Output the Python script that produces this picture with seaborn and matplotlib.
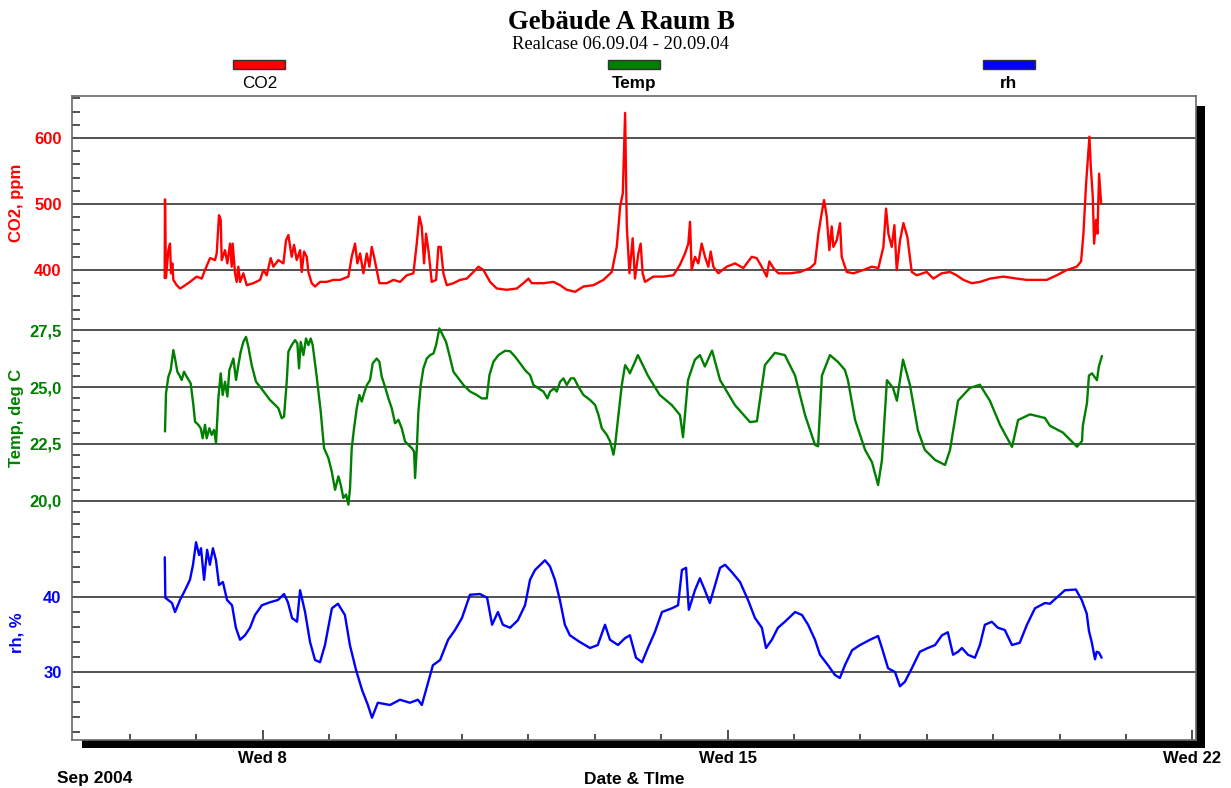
import matplotlib
matplotlib.use("Agg")
import matplotlib.pyplot as plt
from matplotlib.ticker import FixedLocator, FixedFormatter, MultipleLocator
from matplotlib.patches import Rectangle
import pandas as pd
import seaborn as sns

# ---------------------------------------------------------------- data
# time axis: hours since 2004-09-06 00:00
START = pd.Timestamp("2004-09-06 00:00")

co2_hours = [
    12.56, 12.68, 13.04, 13.89, 14.49, 14.85, 15.33, 15.70, 16.90, 18.11,
    19.31, 21.72, 24.13, 25.94, 27.14, 28.95, 30.76, 31.36, 32.20, 32.81,
    33.17, 34.37, 35.22, 36.18, 36.78, 37.14, 37.99, 38.59, 39.19, 39.80,
    41.00, 42.21, 44.62, 47.03, 48.23, 49.44, 50.88, 51.85, 53.65, 55.46,
    56.42, 57.27, 58.47, 59.32, 60.28, 61.49, 62.09, 62.93, 63.90, 64.50,
    65.70, 66.91, 68.72, 71.13, 73.54, 75.95, 78.96, 80.16, 81.37, 82.21,
    83.18, 84.38, 85.59, 86.55, 87.39, 88.24, 89.20, 90.16, 92.82, 95.23,
    97.64, 100.05, 102.46, 103.66, 104.62, 105.47, 106.31, 107.03, 107.88, 109.08,
    110.65, 111.49, 112.34, 113.30, 114.51, 116.92, 119.33, 121.74, 124.15, 125.95,
    127.76, 130.17, 132.58, 136.20, 139.81, 142.22, 144.03, 145.23, 149.45, 153.07,
    155.48, 157.89, 160.90, 163.91, 167.53, 171.14, 174.15, 175.96, 177.17, 178.13,
    178.97, 179.58, 180.54, 181.70, 182.54, 183.75, 184.59, 185.31, 186.16, 189.17,
    192.79, 196.40, 198.81, 200.62, 201.82, 202.43, 203.03, 204.23, 205.44, 206.64,
    207.85, 209.05, 209.90, 210.86, 212.67, 215.68, 218.69, 221.71, 224.72, 226.53,
    228.33, 230.14, 231.10, 232.55, 234.36, 238.58, 242.19, 245.81, 247.61, 248.82,
    250.02, 250.87, 251.83, 252.79, 253.64, 254.24, 255.45, 256.65, 257.25, 259.06,
    261.47, 265.09, 268.10, 270.51, 272.32, 273.28, 274.12, 275.33, 276.29, 277.14,
    278.34, 279.55, 280.99, 282.56, 284.37, 287.98, 290.39, 293.40, 296.42, 298.83,
    301.24, 304.25, 307.26, 310.88, 315.70, 320.52, 324.13, 328.95, 331.36, 334.98,
    338.59, 342.21, 343.77, 344.62, 345.58, 346.79, 347.27, 347.99, 348.47, 349.19,
    349.68, 350.28, 351.00,
]
co2_ppm = [
    388, 507, 388, 430, 440, 395, 410, 385, 377, 372,
    375, 382, 390, 387, 400, 418, 415, 425, 483, 476,
    415, 430, 410, 440, 405, 440, 395, 382, 405, 382,
    395, 377, 380, 385, 400, 392, 418, 405, 415, 410,
    445, 453, 420, 438, 415, 430, 397, 428, 420, 397,
    380, 375, 382, 382, 385, 385, 390, 420, 440, 410,
    425, 395, 425, 405, 435, 420, 400, 380, 380, 385,
    382, 392, 395, 440, 481, 466, 410, 455, 430, 382,
    385, 435, 435, 395, 377, 380, 385, 387, 397, 405,
    400, 382, 372, 370, 372, 380, 387, 380, 380, 382,
    377, 370, 367, 375, 377, 385, 397, 435, 496, 516,
    638, 466, 395, 448, 387, 425, 440, 395, 382, 390,
    390, 392, 408, 425, 440, 473, 400, 420, 410, 440,
    420, 405, 428, 405, 395, 405, 410, 403, 420, 418,
    405, 390, 413, 403, 395, 395, 397, 403, 410, 455,
    486, 506, 481, 430, 466, 435, 445, 471, 420, 397,
    395, 400, 405, 403, 435, 493, 455, 435, 468, 400,
    445, 471, 450, 397, 392, 397, 387, 395, 397, 392,
    385, 380, 382, 387, 390, 387, 385, 385, 385, 392,
    400, 405, 413, 455, 531, 602, 557, 511, 440, 476,
    455, 546, 501,
]

temp_hours = [
    12.68, 13.04, 13.89, 14.73, 15.70, 16.30, 17.14, 17.86, 18.71, 19.55,
    20.52, 21.96, 22.93, 23.53, 24.73, 25.58, 26.30, 27.14, 27.75, 28.71,
    29.55, 30.40, 31.12, 31.96, 32.81, 33.53, 34.37, 35.22, 35.94, 36.78,
    37.39, 38.35, 39.19, 40.04, 41.00, 41.96, 42.81, 44.01, 45.58, 47.03,
    48.83, 50.64, 52.45, 53.65, 54.86, 55.70, 56.67, 57.27, 58.47, 59.68,
    60.52, 61.12, 61.73, 62.69, 63.65, 64.50, 65.34, 66.06, 67.51, 68.96,
    70.16, 71.73, 72.93, 74.14, 75.34, 76.19, 77.15, 78.11, 78.96, 79.56,
    80.16, 81.01, 81.97, 82.93, 83.78, 84.62, 85.59, 86.79, 87.75, 89.20,
    90.16, 91.01, 92.21, 93.42, 94.62, 95.83, 97.03, 98.24, 99.44, 100.65,
    101.85, 102.70, 103.06, 103.66, 104.26, 105.11, 106.07, 107.28, 108.48, 109.69,
    110.65, 111.85, 113.06, 114.26, 115.47, 116.92, 118.72, 120.53, 122.94, 125.35,
    127.16, 128.97, 129.93, 131.38, 133.18, 135.59, 137.40, 139.21, 141.02, 142.82,
    144.63, 145.84, 147.64, 149.45, 150.90, 151.86, 153.31, 154.27, 155.48, 156.68,
    157.89, 159.34, 160.54, 162.10, 163.91, 166.32, 168.13, 169.33, 170.54, 172.35,
    173.55, 174.76, 175.36, 176.56, 177.77, 178.97, 180.18, 180.70, 183.60, 187.20,
    191.50, 195.90, 198.80, 199.90, 201.70, 204.20, 206.00, 207.80, 210.40, 213.30,
    218.70, 224.10, 226.60, 229.50, 233.10, 236.70, 240.40, 244.00, 247.60, 248.70,
    250.10, 253.00, 255.90, 258.40, 259.50, 262.10, 265.70, 268.20, 270.40, 271.80,
    273.60, 275.80, 277.20, 279.40, 281.90, 284.80, 287.30, 291.00, 294.60, 296.40,
    299.30, 303.60, 307.20, 310.80, 314.50, 318.80, 321.00, 325.30, 330.70, 332.50,
    337.20, 342.30, 344.10, 344.40, 345.90, 346.60, 347.70, 349.50, 350.20, 351.30,
]
temp_degc = [
    23.05, 24.72, 25.45, 25.74, 26.62, 26.25, 25.67, 25.52, 25.31, 25.67,
    25.45, 25.16, 24.21, 23.48, 23.34, 23.19, 22.75, 23.34, 22.75, 23.19,
    22.90, 23.12, 22.54, 24.50, 25.60, 24.65, 25.23, 24.58, 25.74, 26.04,
    26.25, 25.31, 25.96, 26.55, 26.98, 27.20, 26.76, 25.96, 25.23, 25.01,
    24.72, 24.43, 24.21, 24.07, 23.63, 23.70, 25.23, 26.55, 26.84, 27.06,
    26.91, 25.82, 26.98, 26.40, 27.13, 26.84, 27.13, 26.84, 25.45, 23.92,
    22.32, 21.88, 21.30, 20.49, 21.08, 20.71, 20.13, 20.28, 19.84, 20.57,
    22.32, 23.19, 24.07, 24.65, 24.36, 24.72, 25.07, 25.31, 26.04, 26.25,
    26.11, 25.45, 25.01, 24.50, 24.07, 23.41, 23.56, 23.19, 22.61, 22.46,
    22.32, 22.17, 21.01, 22.24, 23.92, 25.09, 25.82, 26.25, 26.40, 26.47,
    26.84, 27.57, 27.27, 26.98, 26.40, 25.67, 25.38, 25.09, 24.80, 24.65,
    24.50, 24.50, 25.52, 26.11, 26.40, 26.59, 26.57, 26.33, 26.04, 25.74,
    25.52, 25.09, 24.94, 24.80, 24.50, 24.80, 24.94, 24.80, 25.23, 25.38,
    25.09, 25.38, 25.38, 25.01, 24.65, 24.43, 24.21, 23.78, 23.19, 22.90,
    22.61, 22.03, 22.46, 23.78, 25.09, 25.96, 25.74, 25.60, 26.40, 25.50,
    24.65, 24.20, 23.77, 22.80, 25.30, 26.20, 26.40, 25.90, 26.60, 25.30,
    24.20, 23.46, 23.50, 25.96, 26.50, 26.40, 25.50, 23.77, 22.46, 22.40,
    25.50, 26.40, 26.10, 25.75, 25.30, 23.55, 22.24, 21.70, 20.70, 21.80,
    25.30, 24.96, 24.40, 26.20, 25.10, 23.10, 22.24, 21.80, 21.58, 22.24,
    24.40, 24.96, 25.10, 24.40, 23.33, 22.37, 23.55, 23.80, 23.64, 23.30,
    23.00, 22.38, 22.63, 23.30, 24.30, 25.50, 25.60, 25.30, 25.90, 26.36,
]

rh_hours = [
    12.60, 12.80, 15.20, 16.30, 18.10, 19.90, 21.70, 22.80, 23.90, 25.00,
    25.70, 26.80, 27.90, 28.90, 30.00, 31.10, 32.20, 33.60, 35.10, 36.90,
    38.30, 39.80, 41.60, 43.40, 45.20, 47.70, 50.60, 53.50, 55.70, 57.10,
    58.60, 60.40, 61.50, 63.30, 65.10, 66.90, 68.70, 70.50, 73.00, 75.20,
    77.70, 79.50, 81.70, 83.90, 86.00, 87.50, 89.60, 94.00, 97.60, 101.20,
    104.10, 105.50, 107.70, 109.50, 112.10, 115.00, 117.50, 120.00, 122.90, 126.50,
    129.10, 130.90, 133.00, 134.80, 137.40, 140.20, 142.80, 144.60, 146.40, 150.00,
    151.80, 153.60, 155.40, 157.20, 159.00, 162.60, 166.30, 169.10, 171.70, 173.50,
    176.40, 178.90, 180.70, 182.90, 185.10, 187.20, 189.70, 192.30, 195.90, 198.10,
    199.50, 201.00, 202.00, 204.20, 206.00, 207.80, 209.60, 211.50, 213.30, 215.10,
    217.60, 220.50, 223.40, 225.90, 228.40, 229.90, 232.00, 234.20, 236.70, 240.40,
    242.90, 245.10, 247.60, 249.40, 252.30, 254.80, 256.60, 258.40, 261.00, 263.90,
    267.50, 270.40, 271.80, 274.00, 276.50, 278.30, 280.10, 282.60, 285.50, 288.40,
    291.00, 293.50, 295.60, 297.50, 299.30, 300.70, 302.90, 305.40, 307.20, 309.00,
    311.50, 313.70, 316.20, 318.80, 321.60, 324.20, 327.10, 330.70, 332.50, 337.90,
    341.90, 344.00, 345.80, 346.60, 347.60, 348.80, 349.40, 350.20, 351.20,
]
rh_pct = [
    45.3, 39.9, 39.2, 38.0, 39.6, 40.9, 42.3, 44.3, 47.3, 45.6,
    46.5, 42.3, 46.3, 44.3, 46.5, 44.9, 41.6, 42.0, 39.6, 38.9,
    35.9, 34.3, 34.9, 35.9, 37.6, 38.9, 39.3, 39.6, 40.4, 39.3,
    37.2, 36.7, 40.9, 38.0, 34.0, 31.6, 31.3, 33.6, 38.5, 39.1,
    37.6, 33.6, 30.3, 27.6, 25.6, 23.9, 25.9, 25.6, 26.3, 25.9,
    26.3, 25.6, 28.5, 30.9, 31.6, 34.3, 35.6, 37.2, 40.3, 40.4,
    39.9, 36.3, 38.0, 36.3, 35.9, 36.9, 38.9, 42.3, 43.6, 44.9,
    44.1, 42.3, 39.6, 36.3, 34.9, 34.0, 33.2, 33.6, 36.3, 34.3,
    33.6, 34.5, 34.9, 31.9, 31.3, 33.2, 35.3, 38.0, 38.5, 38.9,
    43.6, 43.9, 38.3, 40.9, 42.5, 40.9, 39.2, 41.6, 43.9, 44.3,
    43.3, 42.0, 39.6, 37.2, 35.9, 33.2, 34.3, 35.9, 36.7, 38.0,
    37.6, 36.3, 34.3, 32.3, 30.9, 29.6, 29.2, 30.9, 32.9, 33.6,
    34.3, 34.8, 33.2, 30.5, 30.0, 28.1, 28.7, 30.5, 32.7, 33.2,
    33.6, 34.9, 35.3, 32.3, 32.7, 33.2, 32.3, 31.9, 33.6, 36.3,
    36.7, 35.9, 35.6, 33.6, 33.9, 36.3, 38.5, 39.2, 39.1, 40.9,
    41.0, 39.6, 37.8, 35.5, 34.0, 31.7, 32.7, 32.6, 31.9,
]

series_names = ["CO2", "Temp", "rh"]
series_colors = ["#ff0000", "#008000", "#0000ff"]
axis_titles = ["CO2, ppm", "Temp, deg C", "rh, %"]

co2_ticks = [400, 500, 600]
co2_ticklabels = ["400", "500", "600"]
temp_ticks = [20.0, 22.5, 25.0, 27.5]
temp_ticklabels = ["20,0", "22,5", "25,0", "27,5"]
rh_ticks = [30, 40]
rh_ticklabels = ["30", "40"]

x_tick_dates = ["2004-09-08", "2004-09-15", "2004-09-22"]
x_tick_labels = ["Wed 8", "Wed 15", "Wed 22"]
x_range = ["2004-09-05 03:04", "2004-09-22 01:18"]

# ---------------------------------------------------------------- style
sns.set_style("white")
plt.rcParams["font.family"] = ["Liberation Sans", "DejaVu Sans"]
plt.rcParams["font.weight"] = "bold"
plt.rcParams["axes.labelweight"] = "bold"
plt.rcParams["text.color"] = "black"
plt.rcParams["axes.labelcolor"] = "black"
plt.rcParams["xtick.color"] = "black"
plt.rcParams["ytick.color"] = "black"

W, H = 1231, 788
fig = plt.figure(figsize=(W / 100, H / 100), dpi=100)


def fx(px):
    return px / W


def fy(py):
    return 1 - py / H


# plot box in pixels, split in three equal stacked bands
left, right, top, bottom = 72, 1196, 96, 740
band = (bottom - top) / 3

frames = [
    pd.DataFrame({"time": START + pd.to_timedelta(co2_hours, unit="h"), "value": co2_ppm}),
    pd.DataFrame({"time": START + pd.to_timedelta(temp_hours, unit="h"), "value": temp_degc}),
    pd.DataFrame({"time": START + pd.to_timedelta(rh_hours, unit="h"), "value": rh_pct}),
]
ylims = [(338.4, 663.6), (18.93, 28.35), (20.93, 49.56)]
majors = [(co2_ticks, co2_ticklabels), (temp_ticks, temp_ticklabels), (rh_ticks, rh_ticklabels)]
minor_steps = [20, 0.5, 2]

frame_col = "#6a6a6a"
axes = []
for i in range(3):
    y0 = top + i * band
    ax = fig.add_axes([fx(left), fy(y0 + band), fx(right - left), band / H],
                      sharex=axes[0] if axes else None)
    axes.append(ax)
    col = series_colors[i]
    sns.lineplot(data=frames[i], x="time", y="value", ax=ax, color=col,
                 linewidth=1.7, estimator=None, sort=False, legend=False)
    ax.set_ylim(*ylims[i])
    ticks, labels = majors[i]
    ax.yaxis.set_major_locator(FixedLocator(ticks))
    ax.yaxis.set_major_formatter(FixedFormatter(labels))
    ax.yaxis.set_minor_locator(MultipleLocator(minor_steps[i]))
    ax.tick_params(axis="y", which="major", direction="out", length=5.5, width=1.1,
                   color="#222222", labelcolor=col, labelsize=12, pad=2)
    ax.tick_params(axis="y", which="minor", direction="in", length=5.8, width=1.1,
                   color="#222222", left=True)
    ax.grid(axis="y", which="major", color="#333333", linewidth=1.2)
    ax.grid(axis="x", visible=False)
    ax.set_ylabel(axis_titles[i], color=col, fontsize=12, fontweight="bold")
    # rotated label: its anchor is the right-hand edge of the text
    ax.yaxis.set_label_coords(-0.0423, 0.5)
    for s in ax.spines.values():
        s.set_color(frame_col)
        s.set_linewidth(1.2)
    if i > 0:
        ax.spines["top"].set_visible(False)
    if i < 2:
        ax.spines["bottom"].set_visible(False)
        ax.tick_params(axis="x", which="both", bottom=False, labelbottom=False)
    ax.set_xlabel("")

ax = axes[2]
ax.set_xlim(pd.Timestamp(x_range[0]), pd.Timestamp(x_range[1]))
ax.xaxis.set_major_locator(FixedLocator(
    [matplotlib.dates.date2num(pd.Timestamp(d)) for d in x_tick_dates]))
ax.xaxis.set_major_formatter(FixedFormatter(x_tick_labels))
ax.xaxis.set_minor_locator(matplotlib.dates.DayLocator())
ax.tick_params(axis="x", which="major", direction="in", length=7.5, width=1.1,
               color="#222222", labelcolor="black", labelsize=12, pad=8, bottom=True)
ax.tick_params(axis="x", which="minor", direction="in", length=4.5, width=1.1,
               color="#222222", bottom=True)
ax.set_xlabel("Date & TIme", fontsize=12.5, fontweight="bold", labelpad=4,
              color="black")

# drop shadow of the plot box
fig.add_artist(Rectangle((fx(1196), fy(748)), fx(9), (748 - 106) / H,
                         transform=fig.transFigure, facecolor="black",
                         edgecolor="none", zorder=0))
fig.add_artist(Rectangle((fx(82), fy(748)), fx(1205 - 82), 8.5 / H,
                         transform=fig.transFigure, facecolor="black",
                         edgecolor="none", zorder=0))

fig.text(fx(57), fy(783), "Sep 2004", fontsize=12.5, fontweight="bold",
         ha="left", va="baseline", color="black")

# titles
fig.text(fx(621.5), fy(29.3), "Gebäude A Raum B", family="Liberation Serif",
         fontsize=19.3, fontweight="bold", ha="center", va="baseline", color="black")
fig.text(fx(621), fy(49.3), "Realcase 06.09.04 - 20.09.04", family="Liberation Serif",
         fontsize=13.4, fontweight="normal", ha="center", va="baseline", color="black")

# legend: swatch above each series name
for k, (name, col) in enumerate(zip(series_names, series_colors)):
    cx = left + (right - left) * (2 * k + 1) / 6
    fig.add_artist(Rectangle((fx(cx - 26), fy(68.5)), fx(52), 8 / H,
                             transform=fig.transFigure, facecolor=col,
                             edgecolor="#333333", linewidth=1))
    fig.text(fx(cx), fy(88.3), name, fontsize=12.3, color="black",
             fontweight="normal" if k == 0 else "bold", ha="center", va="baseline")

fig.savefig("out.png", dpi=100)
